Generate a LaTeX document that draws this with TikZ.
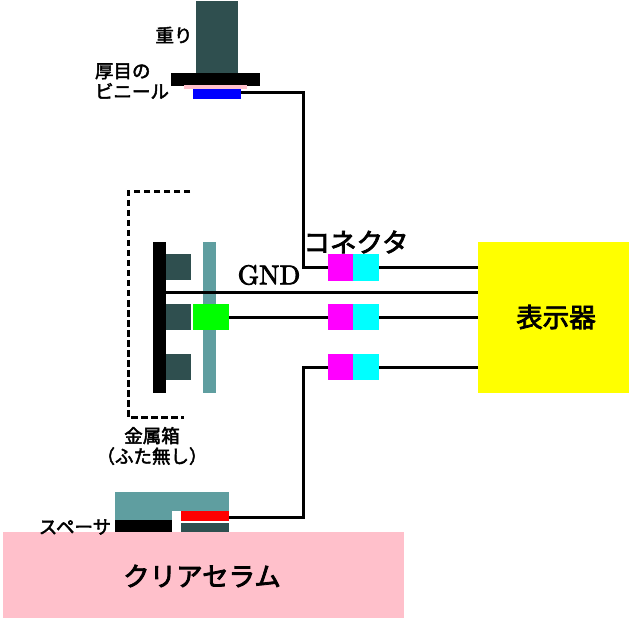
\documentclass[tikz,border=0pt]{standalone}
\usepackage{fontspec}
\newfontfamily\jp[FakeBold=2.5]{Noto Sans CJK JP}
\newfontfamily\jpm[FakeBold=3]{Noto Sans CJK JP}
\newfontfamily\gndfont[FakeBold=3]{Latin Modern Roman}
\definecolor{dslate}{HTML}{2F4F4F}
\definecolor{cadet}{HTML}{5F9EA0}
\definecolor{pinkish}{HTML}{FFC0CB}
\definecolor{magentaC}{HTML}{FF00FF}
\definecolor{cyanC}{HTML}{00FFFF}
\definecolor{yellowC}{HTML}{FFFF00}
\definecolor{greenC}{HTML}{00FF00}
\definecolor{blueC}{HTML}{0000FF}
\definecolor{redC}{HTML}{FF0000}
\newcommand{\bx}[6]{%
  \pgfmathsetmacro{\bw}{#4-#2}\pgfmathsetmacro{\bh}{#5-#3}%
  \pgfmathsetmacro{\bcx}{(#4+#2)/2}\pgfmathsetmacro{\bcy}{(#5+#3)/2}%
  \node[blk,fill=#6,minimum width=\bw pt,minimum height=\bh pt] (#1) at (\bcx,\bcy) {};}
\tikzset{
  blk/.style={rectangle,draw=none,inner sep=0pt,outer sep=0pt},
  wire/.style={draw=black,line width=3pt,line join=miter},
  dashbox/.style={draw=black,line width=3pt,dash pattern=on 6.5pt off 3.5pt},
  lab/.style={font=\jp\fontsize{18.5}{18.5}\selectfont,inner sep=0pt,align=center},
  biglab/.style={font=\jpm\fontsize{26.5}{26.5}\selectfont,inner sep=0pt},
}
\begin{document}
\begin{tikzpicture}[x=1pt,y=-1pt]
\useasboundingbox (0,0) rectangle (629,620);
% weight stack
\bx{weight}{196}{1}{238}{74}{dslate}
\bx{plate}{171}{73}{260}{86}{black}
\bx{vinyl}{184}{85}{247}{89}{pinkish}
\bx{topel}{193}{89}{241}{99}{blueC}
% foil box
\coordinate (dA) at (190,192);
\coordinate (dB) at (128,192);
\coordinate (dC) at (128,417);
\coordinate (dD) at (184,417);
\draw[dashbox] (dA) -- (dB) -- (dC) -- (dD);
% sensor
\bx{teal}{203}{242}{216}{393}{cadet}
\bx{sq1}{165}{254}{191}{280}{dslate}
\bx{sq2}{165}{304}{191}{330}{dslate}
\bx{sq3}{165}{354}{191}{380}{dslate}
\bx{back}{153}{242}{166}{393}{black}
\coordinate (gndL) at (166,292.5);
% connectors
\bx{m1}{328}{254}{353}{281}{magentaC}
\bx{c1}{353}{254}{379}{281}{cyanC}
\bx{m2}{328}{304}{353}{330}{magentaC}
\bx{c2}{353}{304}{379}{330}{cyanC}
\bx{m3}{328}{354}{353}{380}{magentaC}
\bx{c3}{353}{354}{379}{380}{cyanC}
\bx{disp}{478}{242}{629}{393}{yellowC}
% bottom
\bx{slab}{3}{532}{404}{618}{pinkish}
\bx{cover}{115}{492}{229}{532}{cadet}
\bx{spacer}{115}{520}{172}{532}{black}
\bx{gap}{172}{511}{181}{532}{white}
\bx{gapb}{181}{521}{229}{523}{white}
\bx{botel}{181}{511}{229}{521}{redC}
\bx{botsub}{181}{523}{229}{532}{dslate}
% wires
\coordinate (tw) at (241,92.5);
\coordinate (bw) at (229,517);
\coordinate (tx) at (303,92.5);
\draw[wire] (tw) -- (tx) -- (tx |- m1.west) -- (m1.west);
\draw[wire] (bw) -- (tx |- bw) -- (tx |- m3.west) -- (m3.west);
\draw[wire] (c1.east) -- (c1.east -| disp.west);
\draw[wire] (gndL) -- (gndL -| disp.west);
\bx{gel}{193}{304}{229}{330}{greenC}
\draw[wire] (gel.east) -- (m2.west);
\draw[wire] (c2.east) -- (c2.east -| disp.west);
\draw[wire] (c3.east) -- (c3.east -| disp.west);
% labels
\node[lab] (t1) at (174,35) {重り};
\node[lab,align=left] (t2) at (132,81) {厚目の\\[2pt]ビニール};
\node[biglab] (t3) at (356,242) {コネクタ};
\node[inner sep=0pt,font=\gndfont\fontsize{10}{10}\selectfont,scale=2.72] (t4) at (269,275) {GND};
\node[biglab] (t5) at (556,317) {表示器};
\node[lab] (t6) at (152,446) {金属箱\\[2pt]（ふた無し）};
\node[lab] (t7) at (75,527) {スペーサ};
\node[biglab] (t8) at (202,576) {クリアセラム};
\end{tikzpicture}
\end{document}
